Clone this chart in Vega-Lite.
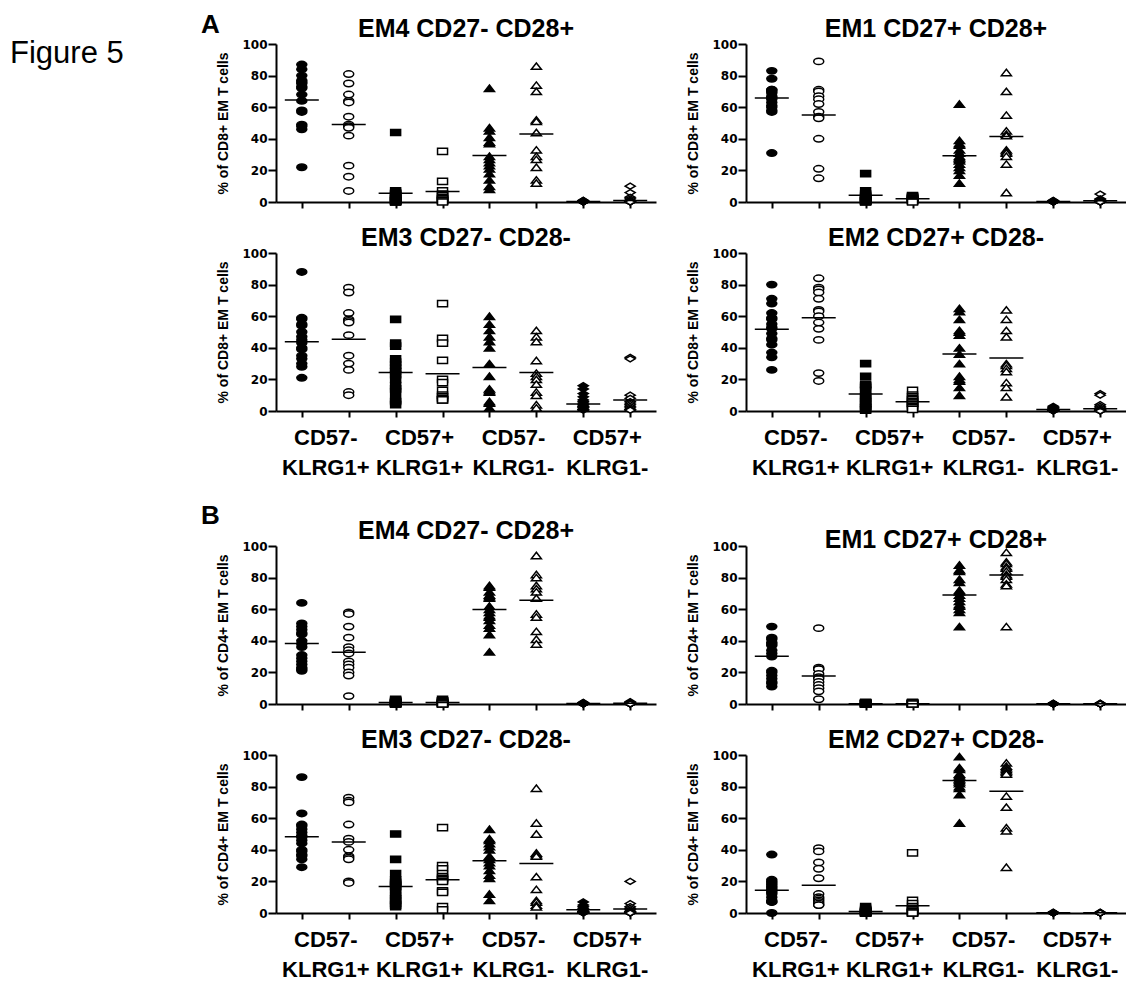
{
"$schema": "https://vega.github.io/schema/vega-lite/v6.json",
"background": "white",
"padding": {"left": 0, "top": 12, "right": 0, "bottom": 0},
"config": {
 "view": {"stroke": null},
 "axis": {"grid": false, "domainColor": "black", "tickColor": "black", "domainWidth": 2, "tickWidth": 2, "labelColor": "black", "titleColor": "black"},
 "axisX": {"tickSize": 6, "labelFont": "Liberation Sans", "labelFontWeight": "bold", "labelFontSize": 22, "labelPadding": 10, "labelLineHeight": 30, "labelAngle": 0, "labelOffset": 23.5},
 "axisY": {"tickSize": 8, "labelFont": "DejaVu Sans", "labelFontWeight": "bold", "labelFontSize": 12, "labelPadding": 1, "titleFont": "Liberation Sans", "titleFontSize": 14, "titleFontWeight": "bold", "titlePadding": 11},
 "title": {"font": "Liberation Sans", "fontSize": 25, "fontWeight": "bold", "color": "black", "anchor": "middle", "frame": "group", "offset": -4}
},
"datasets": {
 "A4": [
  {"g":"1a","v":87},{"g":"1a","v":84},{"g":"1a","v":80},{"g":"1a","v":77},{"g":"1a","v":76},{"g":"1a","v":75},{"g":"1a","v":73},{"g":"1a","v":72},{"g":"1a","v":68},{"g":"1a","v":64},{"g":"1a","v":58},{"g":"1a","v":57},{"g":"1a","v":49},{"g":"1a","v":48},{"g":"1a","v":46},{"g":"1a","v":22},
  {"g":"1b","v":81},{"g":"1b","v":75},{"g":"1b","v":68},{"g":"1b","v":64},{"g":"1b","v":63},{"g":"1b","v":54},{"g":"1b","v":49},{"g":"1b","v":48},{"g":"1b","v":47},{"g":"1b","v":42},{"g":"1b","v":23},{"g":"1b","v":16},{"g":"1b","v":7},
  {"g":"2a","v":44},{"g":"2a","v":7},{"g":"2a","v":6},{"g":"2a","v":5},{"g":"2a","v":5},{"g":"2a","v":4},{"g":"2a","v":3},{"g":"2a","v":2},{"g":"2a","v":2},{"g":"2a","v":1},{"g":"2a","v":1},{"g":"2a","v":1},{"g":"2a","v":0.5},{"g":"2a","v":0.5},{"g":"2a","v":0},{"g":"2a","v":0},
  {"g":"2b","v":32},{"g":"2b","v":13},{"g":"2b","v":7},{"g":"2b","v":5},{"g":"2b","v":4},{"g":"2b","v":3},{"g":"2b","v":2},{"g":"2b","v":2},{"g":"2b","v":1},{"g":"2b","v":1},{"g":"2b","v":0.5},{"g":"2b","v":0},
  {"g":"3a","v":72},{"g":"3a","v":47},{"g":"3a","v":45},{"g":"3a","v":41},{"g":"3a","v":38},{"g":"3a","v":37},{"g":"3a","v":29},{"g":"3a","v":27},{"g":"3a","v":25},{"g":"3a","v":23},{"g":"3a","v":21},{"g":"3a","v":18},{"g":"3a","v":14},{"g":"3a","v":10},{"g":"3a","v":8},
  {"g":"3b","v":86},{"g":"3b","v":74},{"g":"3b","v":70},{"g":"3b","v":52},{"g":"3b","v":51},{"g":"3b","v":44},{"g":"3b","v":33},{"g":"3b","v":29},{"g":"3b","v":27},{"g":"3b","v":22},{"g":"3b","v":14},{"g":"3b","v":12},
  {"g":"4a","v":1},{"g":"4a","v":1},{"g":"4a","v":0.5},{"g":"4a","v":0.5},{"g":"4a","v":0.5},{"g":"4a","v":0.3},{"g":"4a","v":0.3},{"g":"4a","v":0.2},{"g":"4a","v":0.2},{"g":"4a","v":0.1},{"g":"4a","v":0},{"g":"4a","v":0},{"g":"4a","v":0},{"g":"4a","v":0},
  {"g":"4b","v":10},{"g":"4b","v":6},{"g":"4b","v":3},{"g":"4b","v":2},{"g":"4b","v":1},{"g":"4b","v":1},{"g":"4b","v":0.5},{"g":"4b","v":0.5},{"g":"4b","v":0},{"g":"4b","v":0},{"g":"4b","v":0},{"g":"4b","v":0}
 ],
 "A4m": [{"g":"1a","v":64.5},{"g":"1b","v":49},{"g":"2a","v":5.5},{"g":"2b","v":6.6},{"g":"3a","v":29.5},{"g":"3b","v":43},{"g":"4a","v":0.3},{"g":"4b","v":1}],
 "A1": [
  {"g":"1a","v":83},{"g":"1a","v":78},{"g":"1a","v":71},{"g":"1a","v":71},{"g":"1a","v":70},{"g":"1a","v":69},{"g":"1a","v":67},{"g":"1a","v":66},{"g":"1a","v":65},{"g":"1a","v":63},{"g":"1a","v":61},{"g":"1a","v":60},{"g":"1a","v":58},{"g":"1a","v":57},{"g":"1a","v":31},
  {"g":"1b","v":89},{"g":"1b","v":71},{"g":"1b","v":70},{"g":"1b","v":67},{"g":"1b","v":65},{"g":"1b","v":62},{"g":"1b","v":57},{"g":"1b","v":54},{"g":"1b","v":53},{"g":"1b","v":40},{"g":"1b","v":21},{"g":"1b","v":15},
  {"g":"2a","v":18},{"g":"2a","v":7},{"g":"2a","v":5},{"g":"2a","v":4},{"g":"2a","v":3},{"g":"2a","v":3},{"g":"2a","v":2},{"g":"2a","v":2},{"g":"2a","v":1},{"g":"2a","v":1},{"g":"2a","v":1},{"g":"2a","v":0.5},{"g":"2a","v":0.5},{"g":"2a","v":0.3},{"g":"2a","v":0},
  {"g":"2b","v":4},{"g":"2b","v":3.5},{"g":"2b","v":3},{"g":"2b","v":3},{"g":"2b","v":2.5},{"g":"2b","v":2},{"g":"2b","v":2},{"g":"2b","v":1.5},{"g":"2b","v":1},{"g":"2b","v":1},{"g":"2b","v":0.5},{"g":"2b","v":0},
  {"g":"3a","v":62},{"g":"3a","v":39},{"g":"3a","v":37},{"g":"3a","v":36},{"g":"3a","v":33},{"g":"3a","v":31},{"g":"3a","v":29},{"g":"3a","v":28},{"g":"3a","v":27},{"g":"3a","v":26},{"g":"3a","v":24},{"g":"3a","v":22},{"g":"3a","v":20},{"g":"3a","v":17},{"g":"3a","v":12},
  {"g":"3b","v":82},{"g":"3b","v":70},{"g":"3b","v":55},{"g":"3b","v":45},{"g":"3b","v":43},{"g":"3b","v":42},{"g":"3b","v":33},{"g":"3b","v":32},{"g":"3b","v":31},{"g":"3b","v":29},{"g":"3b","v":24},{"g":"3b","v":6},
  {"g":"4a","v":1},{"g":"4a","v":0.8},{"g":"4a","v":0.5},{"g":"4a","v":0.5},{"g":"4a","v":0.3},{"g":"4a","v":0.3},{"g":"4a","v":0.2},{"g":"4a","v":0.2},{"g":"4a","v":0},{"g":"4a","v":0},{"g":"4a","v":0},{"g":"4a","v":0},{"g":"4a","v":0},
  {"g":"4b","v":5},{"g":"4b","v":2},{"g":"4b","v":1.5},{"g":"4b","v":1},{"g":"4b","v":1},{"g":"4b","v":0.5},{"g":"4b","v":0.5},{"g":"4b","v":0},{"g":"4b","v":0},{"g":"4b","v":0},{"g":"4b","v":0},{"g":"4b","v":0}
 ],
 "A1m": [{"g":"1a","v":65.8},{"g":"1b","v":55},{"g":"2a","v":4.3},{"g":"2b","v":2},{"g":"3a","v":29.3},{"g":"3b","v":41.5},{"g":"4a","v":0.3},{"g":"4b","v":0.8}],
 "A3": [
  {"g":"1a","v":88},{"g":"1a","v":59},{"g":"1a","v":58},{"g":"1a","v":55},{"g":"1a","v":54},{"g":"1a","v":50},{"g":"1a","v":47},{"g":"1a","v":45},{"g":"1a","v":43},{"g":"1a","v":40},{"g":"1a","v":39},{"g":"1a","v":35},{"g":"1a","v":33},{"g":"1a","v":30},{"g":"1a","v":28},{"g":"1a","v":21},
  {"g":"1b","v":78},{"g":"1b","v":75},{"g":"1b","v":62},{"g":"1b","v":58},{"g":"1b","v":57},{"g":"1b","v":56},{"g":"1b","v":48},{"g":"1b","v":35},{"g":"1b","v":30},{"g":"1b","v":26},{"g":"1b","v":12},{"g":"1b","v":10},
  {"g":"2a","v":58},{"g":"2a","v":43},{"g":"2a","v":41},{"g":"2a","v":33},{"g":"2a","v":31},{"g":"2a","v":29},{"g":"2a","v":27},{"g":"2a","v":25},{"g":"2a","v":23},{"g":"2a","v":20},{"g":"2a","v":16},{"g":"2a","v":14},{"g":"2a","v":12},{"g":"2a","v":7},{"g":"2a","v":6},{"g":"2a","v":4},
  {"g":"2b","v":68},{"g":"2b","v":46},{"g":"2b","v":43},{"g":"2b","v":32},{"g":"2b","v":20},{"g":"2b","v":18},{"g":"2b","v":13},{"g":"2b","v":10},{"g":"2b","v":9},{"g":"2b","v":8},{"g":"2b","v":7},{"g":"2b","v":7},
  {"g":"3a","v":60},{"g":"3a","v":55},{"g":"3a","v":51},{"g":"3a","v":47},{"g":"3a","v":44},{"g":"3a","v":40},{"g":"3a","v":30},{"g":"3a","v":22},{"g":"3a","v":14},{"g":"3a","v":13},{"g":"3a","v":12},{"g":"3a","v":6},{"g":"3a","v":5},{"g":"3a","v":2},
  {"g":"3b","v":51},{"g":"3b","v":47},{"g":"3b","v":44},{"g":"3b","v":32},{"g":"3b","v":24},{"g":"3b","v":22},{"g":"3b","v":20},{"g":"3b","v":17},{"g":"3b","v":12},{"g":"3b","v":10},{"g":"3b","v":4},{"g":"3b","v":2},
  {"g":"4a","v":16},{"g":"4a","v":14},{"g":"4a","v":11},{"g":"4a","v":9},{"g":"4a","v":7},{"g":"4a","v":6},{"g":"4a","v":5},{"g":"4a","v":4},{"g":"4a","v":3},{"g":"4a","v":3},{"g":"4a","v":2},{"g":"4a","v":2},{"g":"4a","v":1},{"g":"4a","v":1},{"g":"4a","v":0.5},
  {"g":"4b","v":34},{"g":"4b","v":33},{"g":"4b","v":10},{"g":"4b","v":8},{"g":"4b","v":6},{"g":"4b","v":5},{"g":"4b","v":4},{"g":"4b","v":3},{"g":"4b","v":2},{"g":"4b","v":1},{"g":"4b","v":1},{"g":"4b","v":0.5}
 ],
 "A3m": [{"g":"1a","v":43.9},{"g":"1b","v":45.4},{"g":"2a","v":24.3},{"g":"2b","v":23.6},{"g":"3a","v":27.5},{"g":"3b","v":24.3},{"g":"4a","v":4.5},{"g":"4b","v":7}],
 "A2": [
  {"g":"1a","v":80},{"g":"1a","v":71},{"g":"1a","v":68},{"g":"1a","v":62},{"g":"1a","v":59},{"g":"1a","v":58},{"g":"1a","v":55},{"g":"1a","v":53},{"g":"1a","v":52},{"g":"1a","v":49},{"g":"1a","v":46},{"g":"1a","v":45},{"g":"1a","v":42},{"g":"1a","v":37},{"g":"1a","v":34},{"g":"1a","v":26},
  {"g":"1b","v":84},{"g":"1b","v":78},{"g":"1b","v":77},{"g":"1b","v":75},{"g":"1b","v":71},{"g":"1b","v":64},{"g":"1b","v":63},{"g":"1b","v":60},{"g":"1b","v":56},{"g":"1b","v":52},{"g":"1b","v":45},{"g":"1b","v":24},{"g":"1b","v":19},
  {"g":"2a","v":30},{"g":"2a","v":22},{"g":"2a","v":17},{"g":"2a","v":16},{"g":"2a","v":15},{"g":"2a","v":13},{"g":"2a","v":10},{"g":"2a","v":9},{"g":"2a","v":8},{"g":"2a","v":6},{"g":"2a","v":5},{"g":"2a","v":4},{"g":"2a","v":3},{"g":"2a","v":2},{"g":"2a","v":1},{"g":"2a","v":0.5},
  {"g":"2b","v":13},{"g":"2b","v":10},{"g":"2b","v":9},{"g":"2b","v":8},{"g":"2b","v":7},{"g":"2b","v":6},{"g":"2b","v":5},{"g":"2b","v":5},{"g":"2b","v":4},{"g":"2b","v":3},{"g":"2b","v":2},{"g":"2b","v":1},
  {"g":"3a","v":65},{"g":"3a","v":63},{"g":"3a","v":58},{"g":"3a","v":51},{"g":"3a","v":50},{"g":"3a","v":48},{"g":"3a","v":40},{"g":"3a","v":36},{"g":"3a","v":30},{"g":"3a","v":22},{"g":"3a","v":20},{"g":"3a","v":19},{"g":"3a","v":15},{"g":"3a","v":10},
  {"g":"3b","v":64},{"g":"3b","v":58},{"g":"3b","v":51},{"g":"3b","v":47},{"g":"3b","v":30},{"g":"3b","v":29},{"g":"3b","v":27},{"g":"3b","v":25},{"g":"3b","v":18},{"g":"3b","v":15},{"g":"3b","v":9},
  {"g":"4a","v":3},{"g":"4a","v":2},{"g":"4a","v":2},{"g":"4a","v":1.5},{"g":"4a","v":1},{"g":"4a","v":1},{"g":"4a","v":1},{"g":"4a","v":0.5},{"g":"4a","v":0.5},{"g":"4a","v":0.5},{"g":"4a","v":0.3},{"g":"4a","v":0.2},{"g":"4a","v":0},{"g":"4a","v":0},
  {"g":"4b","v":11},{"g":"4b","v":10},{"g":"4b","v":4},{"g":"4b","v":3},{"g":"4b","v":2},{"g":"4b","v":1},{"g":"4b","v":1},{"g":"4b","v":0.5},{"g":"4b","v":0.5},{"g":"4b","v":0},{"g":"4b","v":0},{"g":"4b","v":0}
 ],
 "A2m": [{"g":"1a","v":51.8},{"g":"1b","v":59},{"g":"2a","v":10.8},{"g":"2b","v":5.8},{"g":"3a","v":36.1},{"g":"3b","v":33.5},{"g":"4a","v":1},{"g":"4b","v":1.5}],
 "B4": [
  {"g":"1a","v":64},{"g":"1a","v":51},{"g":"1a","v":49},{"g":"1a","v":47},{"g":"1a","v":45},{"g":"1a","v":44},{"g":"1a","v":40},{"g":"1a","v":38},{"g":"1a","v":36},{"g":"1a","v":31},{"g":"1a","v":29},{"g":"1a","v":27},{"g":"1a","v":25},{"g":"1a","v":23},{"g":"1a","v":22},{"g":"1a","v":21},
  {"g":"1b","v":58},{"g":"1b","v":57},{"g":"1b","v":49},{"g":"1b","v":42},{"g":"1b","v":36},{"g":"1b","v":34},{"g":"1b","v":32},{"g":"1b","v":27},{"g":"1b","v":25},{"g":"1b","v":23},{"g":"1b","v":20},{"g":"1b","v":18},{"g":"1b","v":5},
  {"g":"2a","v":3},{"g":"2a","v":2.5},{"g":"2a","v":2},{"g":"2a","v":1.5},{"g":"2a","v":1},{"g":"2a","v":1},{"g":"2a","v":1},{"g":"2a","v":0.5},{"g":"2a","v":0.5},{"g":"2a","v":0.5},{"g":"2a","v":0.3},{"g":"2a","v":0.2},{"g":"2a","v":0},{"g":"2a","v":0},
  {"g":"2b","v":3},{"g":"2b","v":2},{"g":"2b","v":2},{"g":"2b","v":1.5},{"g":"2b","v":1},{"g":"2b","v":1},{"g":"2b","v":0.5},{"g":"2b","v":0.5},{"g":"2b","v":0.3},{"g":"2b","v":0},{"g":"2b","v":0},{"g":"2b","v":0},
  {"g":"3a","v":75},{"g":"3a","v":74},{"g":"3a","v":71},{"g":"3a","v":69},{"g":"3a","v":68},{"g":"3a","v":67},{"g":"3a","v":62},{"g":"3a","v":60},{"g":"3a","v":58},{"g":"3a","v":56},{"g":"3a","v":55},{"g":"3a","v":53},{"g":"3a","v":50},{"g":"3a","v":48},{"g":"3a","v":44},{"g":"3a","v":33},
  {"g":"3b","v":94},{"g":"3b","v":82},{"g":"3b","v":80},{"g":"3b","v":75},{"g":"3b","v":73},{"g":"3b","v":71},{"g":"3b","v":67},{"g":"3b","v":57},{"g":"3b","v":55},{"g":"3b","v":46},{"g":"3b","v":41},{"g":"3b","v":38},
  {"g":"4a","v":1},{"g":"4a","v":0.8},{"g":"4a","v":0.5},{"g":"4a","v":0.5},{"g":"4a","v":0.3},{"g":"4a","v":0.3},{"g":"4a","v":0.2},{"g":"4a","v":0.1},{"g":"4a","v":0},{"g":"4a","v":0},{"g":"4a","v":0},{"g":"4a","v":0},{"g":"4a","v":0},
  {"g":"4b","v":1.5},{"g":"4b","v":1},{"g":"4b","v":0.8},{"g":"4b","v":0.5},{"g":"4b","v":0.5},{"g":"4b","v":0.3},{"g":"4b","v":0.2},{"g":"4b","v":0},{"g":"4b","v":0},{"g":"4b","v":0},{"g":"4b","v":0},{"g":"4b","v":0}
 ],
 "B4m": [{"g":"1a","v":38.3},{"g":"1b","v":32.7},{"g":"2a","v":1},{"g":"2b","v":1},{"g":"3a","v":59.8},{"g":"3b","v":65.6},{"g":"4a","v":0.3},{"g":"4b","v":0.4}],
 "B1": [
  {"g":"1a","v":49},{"g":"1a","v":42},{"g":"1a","v":41},{"g":"1a","v":39},{"g":"1a","v":38},{"g":"1a","v":37},{"g":"1a","v":34},{"g":"1a","v":32},{"g":"1a","v":30},{"g":"1a","v":21},{"g":"1a","v":20},{"g":"1a","v":18},{"g":"1a","v":16},{"g":"1a","v":14},{"g":"1a","v":13},{"g":"1a","v":11},
  {"g":"1b","v":48},{"g":"1b","v":23},{"g":"1b","v":22},{"g":"1b","v":22},{"g":"1b","v":19},{"g":"1b","v":17},{"g":"1b","v":16},{"g":"1b","v":14},{"g":"1b","v":12},{"g":"1b","v":10},{"g":"1b","v":8},{"g":"1b","v":3},
  {"g":"2a","v":1},{"g":"2a","v":0.8},{"g":"2a","v":0.5},{"g":"2a","v":0.5},{"g":"2a","v":0.3},{"g":"2a","v":0.3},{"g":"2a","v":0.2},{"g":"2a","v":0.2},{"g":"2a","v":0.1},{"g":"2a","v":0},{"g":"2a","v":0},{"g":"2a","v":0},{"g":"2a","v":0},
  {"g":"2b","v":1},{"g":"2b","v":0.8},{"g":"2b","v":0.5},{"g":"2b","v":0.5},{"g":"2b","v":0.3},{"g":"2b","v":0.2},{"g":"2b","v":0.1},{"g":"2b","v":0},{"g":"2b","v":0},{"g":"2b","v":0},{"g":"2b","v":0},{"g":"2b","v":0},
  {"g":"3a","v":88},{"g":"3a","v":85},{"g":"3a","v":84},{"g":"3a","v":79},{"g":"3a","v":77},{"g":"3a","v":72},{"g":"3a","v":71},{"g":"3a","v":69},{"g":"3a","v":67},{"g":"3a","v":65},{"g":"3a","v":63},{"g":"3a","v":62},{"g":"3a","v":60},{"g":"3a","v":58},{"g":"3a","v":49},
  {"g":"3b","v":96},{"g":"3b","v":90},{"g":"3b","v":89},{"g":"3b","v":87},{"g":"3b","v":86},{"g":"3b","v":84},{"g":"3b","v":82},{"g":"3b","v":81},{"g":"3b","v":79},{"g":"3b","v":76},{"g":"3b","v":75},{"g":"3b","v":49},
  {"g":"4a","v":0.5},{"g":"4a","v":0.3},{"g":"4a","v":0.3},{"g":"4a","v":0.2},{"g":"4a","v":0.1},{"g":"4a","v":0},{"g":"4a","v":0},{"g":"4a","v":0},{"g":"4a","v":0},{"g":"4a","v":0},{"g":"4a","v":0},{"g":"4a","v":0},
  {"g":"4b","v":0.5},{"g":"4b","v":0.3},{"g":"4b","v":0.2},{"g":"4b","v":0.1},{"g":"4b","v":0},{"g":"4b","v":0},{"g":"4b","v":0},{"g":"4b","v":0},{"g":"4b","v":0},{"g":"4b","v":0},{"g":"4b","v":0},{"g":"4b","v":0}
 ],
 "B1m": [{"g":"1a","v":30.3},{"g":"1b","v":17.8},{"g":"2a","v":0.2},{"g":"2b","v":0.2},{"g":"3a","v":69},{"g":"3b","v":81.6},{"g":"4a","v":0.1},{"g":"4b","v":0.1}],
 "B1s": [{"a":"1a","b":"1b","t":"**"},{"a":"3a","b":"3b","t":"**"}],
 "B3": [
  {"g":"1a","v":86},{"g":"1a","v":63},{"g":"1a","v":56},{"g":"1a","v":55},{"g":"1a","v":53},{"g":"1a","v":51},{"g":"1a","v":49},{"g":"1a","v":48},{"g":"1a","v":46},{"g":"1a","v":44},{"g":"1a","v":40},{"g":"1a","v":39},{"g":"1a","v":37},{"g":"1a","v":36},{"g":"1a","v":34},{"g":"1a","v":29},
  {"g":"1b","v":73},{"g":"1b","v":71},{"g":"1b","v":70},{"g":"1b","v":56},{"g":"1b","v":47},{"g":"1b","v":45},{"g":"1b","v":40},{"g":"1b","v":36},{"g":"1b","v":35},{"g":"1b","v":34},{"g":"1b","v":20},{"g":"1b","v":19},
  {"g":"2a","v":50},{"g":"2a","v":34},{"g":"2a","v":25},{"g":"2a","v":21},{"g":"2a","v":20},{"g":"2a","v":19},{"g":"2a","v":18},{"g":"2a","v":17},{"g":"2a","v":16},{"g":"2a","v":13},{"g":"2a","v":11},{"g":"2a","v":9},{"g":"2a","v":8},{"g":"2a","v":6},{"g":"2a","v":5},{"g":"2a","v":4},
  {"g":"2b","v":54},{"g":"2b","v":30},{"g":"2b","v":28},{"g":"2b","v":25},{"g":"2b","v":23},{"g":"2b","v":22},{"g":"2b","v":21},{"g":"2b","v":20},{"g":"2b","v":14},{"g":"2b","v":13},{"g":"2b","v":4},{"g":"2b","v":2},
  {"g":"3a","v":53},{"g":"3a","v":47},{"g":"3a","v":46},{"g":"3a","v":44},{"g":"3a","v":42},{"g":"3a","v":40},{"g":"3a","v":36},{"g":"3a","v":34},{"g":"3a","v":32},{"g":"3a","v":30},{"g":"3a","v":27},{"g":"3a","v":24},{"g":"3a","v":22},{"g":"3a","v":12},{"g":"3a","v":8},
  {"g":"3b","v":79},{"g":"3b","v":57},{"g":"3b","v":50},{"g":"3b","v":38},{"g":"3b","v":37},{"g":"3b","v":36},{"g":"3b","v":23},{"g":"3b","v":15},{"g":"3b","v":8},{"g":"3b","v":7},{"g":"3b","v":5},{"g":"3b","v":4},
  {"g":"4a","v":7},{"g":"4a","v":5},{"g":"4a","v":4},{"g":"4a","v":3},{"g":"4a","v":2},{"g":"4a","v":2},{"g":"4a","v":1},{"g":"4a","v":1},{"g":"4a","v":1},{"g":"4a","v":0.5},{"g":"4a","v":0.5},{"g":"4a","v":0.3},{"g":"4a","v":0},{"g":"4a","v":0},
  {"g":"4b","v":20},{"g":"4b","v":6},{"g":"4b","v":4},{"g":"4b","v":3},{"g":"4b","v":2},{"g":"4b","v":1},{"g":"4b","v":1},{"g":"4b","v":0.5},{"g":"4b","v":0},{"g":"4b","v":0},{"g":"4b","v":0},{"g":"4b","v":0}
 ],
 "B3m": [{"g":"1a","v":48.2},{"g":"1b","v":45},{"g":"2a","v":16.8},{"g":"2b","v":21},{"g":"3a","v":33},{"g":"3b","v":31.4},{"g":"4a","v":2},{"g":"4b","v":2.5}],
 "B2": [
  {"g":"1a","v":37},{"g":"1a","v":21},{"g":"1a","v":20},{"g":"1a","v":19},{"g":"1a","v":18},{"g":"1a","v":17},{"g":"1a","v":16},{"g":"1a","v":15},{"g":"1a","v":14},{"g":"1a","v":13},{"g":"1a","v":12},{"g":"1a","v":10},{"g":"1a","v":8},{"g":"1a","v":7},{"g":"1a","v":7},{"g":"1a","v":0},
  {"g":"1b","v":41},{"g":"1b","v":39},{"g":"1b","v":32},{"g":"1b","v":28},{"g":"1b","v":22},{"g":"1b","v":12},{"g":"1b","v":10},{"g":"1b","v":9},{"g":"1b","v":8},{"g":"1b","v":7},{"g":"1b","v":6},{"g":"1b","v":5},{"g":"1b","v":5},
  {"g":"2a","v":4},{"g":"2a","v":3},{"g":"2a","v":2},{"g":"2a","v":1.5},{"g":"2a","v":1},{"g":"2a","v":1},{"g":"2a","v":1},{"g":"2a","v":0.5},{"g":"2a","v":0.5},{"g":"2a","v":0.3},{"g":"2a","v":0.2},{"g":"2a","v":0},{"g":"2a","v":0},{"g":"2a","v":0},
  {"g":"2b","v":38},{"g":"2b","v":8},{"g":"2b","v":6},{"g":"2b","v":4},{"g":"2b","v":3},{"g":"2b","v":2},{"g":"2b","v":1},{"g":"2b","v":1},{"g":"2b","v":0.5},{"g":"2b","v":0},{"g":"2b","v":0},{"g":"2b","v":0},
  {"g":"3a","v":99},{"g":"3a","v":92},{"g":"3a","v":91},{"g":"3a","v":88},{"g":"3a","v":87},{"g":"3a","v":86},{"g":"3a","v":85},{"g":"3a","v":84},{"g":"3a","v":83},{"g":"3a","v":82},{"g":"3a","v":80},{"g":"3a","v":79},{"g":"3a","v":75},{"g":"3a","v":57},
  {"g":"3b","v":95},{"g":"3b","v":93},{"g":"3b","v":92},{"g":"3b","v":91},{"g":"3b","v":90},{"g":"3b","v":89},{"g":"3b","v":88},{"g":"3b","v":74},{"g":"3b","v":67},{"g":"3b","v":54},{"g":"3b","v":52},{"g":"3b","v":29},
  {"g":"4a","v":0.5},{"g":"4a","v":0.3},{"g":"4a","v":0.2},{"g":"4a","v":0.1},{"g":"4a","v":0},{"g":"4a","v":0},{"g":"4a","v":0},{"g":"4a","v":0},{"g":"4a","v":0},{"g":"4a","v":0},{"g":"4a","v":0},{"g":"4a","v":0},
  {"g":"4b","v":0.5},{"g":"4b","v":0.3},{"g":"4b","v":0.2},{"g":"4b","v":0},{"g":"4b","v":0},{"g":"4b","v":0},{"g":"4b","v":0},{"g":"4b","v":0},{"g":"4b","v":0},{"g":"4b","v":0},{"g":"4b","v":0},{"g":"4b","v":0}
 ],
 "B2m": [{"g":"1a","v":14.4},{"g":"1b","v":17.5},{"g":"2a","v":1},{"g":"2b","v":4.6},{"g":"3a","v":83.9},{"g":"3b","v":77},{"g":"4a","v":0.1},{"g":"4b","v":0.1}]
},
"hconcat": [
 {
  "width": 20, "height": 20,
  "data": {"values": [{"t": "Figure 5"}]},
  "mark": {"type": "text", "align": "left", "baseline": "middle", "font": "Liberation Sans", "fontSize": 31, "color": "black"},
  "encoding": {"text": {"field": "t"}}
 },
 {
  "spacing": 25,
  "vconcat": [
   {
    "title": {"text": "A", "anchor": "start", "frame": "bounds", "fontSize": 26, "offset": -21, "dx": -16},
    "spacing": 17,
    "vconcat": [
     {"spacing": 30, "hconcat": [
      {"width": 380, "height": 158, "title": {"text": "EM4 CD27- CD28+"},
       "encoding": {
        "x": {"field": "g", "type": "nominal", "title": null, "scale": {"type": "point", "domain": ["1a","1b","2a","2b","3a","3b","4a","4b"], "padding": 0.55}, "axis": {"labels": false}},
        "y": {"field": "v", "type": "quantitative", "title": "% of CD8+ EM T cells", "scale": {"domain": [0, 100], "nice": false}, "axis": {"values": [0,20,40,60,80,100]}}
       },
       "layer": [
        {"data": {"name": "A4"}, "mark": {"type": "point", "filled": true, "opacity": 1, "stroke": "black", "strokeWidth": 1.5, "size": 100},
         "encoding": {
          "shape": {"field": "g", "type": "nominal", "legend": null, "scale": {"domain": ["1a","1b","2a","2b","3a","3b","4a","4b"], "range": ["M-1,0A1,0.64,0,1,1,1,0A1,0.64,0,1,1,-1,0Z","M-1,0A1,0.64,0,1,1,1,0A1,0.64,0,1,1,-1,0Z","M-1,-0.62H1V0.62H-1Z","M-1,-0.62H1V0.62H-1Z","M0,-0.64L1,0.64H-1Z","M0,-0.64L1,0.64H-1Z","M-1,0L0,-0.6L1,0L0,0.6Z","M-1,0L0,-0.6L1,0L0,0.6Z"]}},
          "fill": {"field": "g", "type": "nominal", "legend": null, "scale": {"domain": ["1a","1b","2a","2b","3a","3b","4a","4b"], "range": ["black","white","black","white","black","white","black","white"]}}
         }},
        {"data": {"name": "A4m"}, "mark": {"type": "tick", "color": "black", "opacity": 1, "thickness": 1.5, "size": 34}}
       ]},
      {"width": 380, "height": 158, "title": {"text": "EM1 CD27+ CD28+"},
       "encoding": {
        "x": {"field": "g", "type": "nominal", "title": null, "scale": {"type": "point", "domain": ["1a","1b","2a","2b","3a","3b","4a","4b"], "padding": 0.55}, "axis": {"labels": false}},
        "y": {"field": "v", "type": "quantitative", "title": "% of CD8+ EM T cells", "scale": {"domain": [0, 100], "nice": false}, "axis": {"values": [0,20,40,60,80,100]}}
       },
       "layer": [
        {"data": {"name": "A1"}, "mark": {"type": "point", "filled": true, "opacity": 1, "stroke": "black", "strokeWidth": 1.5, "size": 100},
         "encoding": {
          "shape": {"field": "g", "type": "nominal", "legend": null, "scale": {"domain": ["1a","1b","2a","2b","3a","3b","4a","4b"], "range": ["M-1,0A1,0.64,0,1,1,1,0A1,0.64,0,1,1,-1,0Z","M-1,0A1,0.64,0,1,1,1,0A1,0.64,0,1,1,-1,0Z","M-1,-0.62H1V0.62H-1Z","M-1,-0.62H1V0.62H-1Z","M0,-0.64L1,0.64H-1Z","M0,-0.64L1,0.64H-1Z","M-1,0L0,-0.6L1,0L0,0.6Z","M-1,0L0,-0.6L1,0L0,0.6Z"]}},
          "fill": {"field": "g", "type": "nominal", "legend": null, "scale": {"domain": ["1a","1b","2a","2b","3a","3b","4a","4b"], "range": ["black","white","black","white","black","white","black","white"]}}
         }},
        {"data": {"name": "A1m"}, "mark": {"type": "tick", "color": "black", "opacity": 1, "thickness": 1.5, "size": 34}}
       ]}
     ]},
     {"spacing": 30, "hconcat": [
      {"width": 380, "height": 158, "title": {"text": "EM3 CD27- CD28-"},
       "encoding": {
        "x": {"field": "g", "type": "nominal", "title": null, "scale": {"type": "point", "domain": ["1a","1b","2a","2b","3a","3b","4a","4b"], "padding": 0.55}, "axis": {"labelExpr": "datum.value=='1a'?['CD57-','KLRG1+']:datum.value=='2a'?['CD57+','KLRG1+']:datum.value=='3a'?['CD57-','KLRG1-']:datum.value=='4a'?['CD57+','KLRG1-']:''"}},
        "y": {"field": "v", "type": "quantitative", "title": "% of CD8+ EM T cells", "scale": {"domain": [0, 100], "nice": false}, "axis": {"values": [0,20,40,60,80,100]}}
       },
       "layer": [
        {"data": {"name": "A3"}, "mark": {"type": "point", "filled": true, "opacity": 1, "stroke": "black", "strokeWidth": 1.5, "size": 100},
         "encoding": {
          "shape": {"field": "g", "type": "nominal", "legend": null, "scale": {"domain": ["1a","1b","2a","2b","3a","3b","4a","4b"], "range": ["M-1,0A1,0.64,0,1,1,1,0A1,0.64,0,1,1,-1,0Z","M-1,0A1,0.64,0,1,1,1,0A1,0.64,0,1,1,-1,0Z","M-1,-0.62H1V0.62H-1Z","M-1,-0.62H1V0.62H-1Z","M0,-0.64L1,0.64H-1Z","M0,-0.64L1,0.64H-1Z","M-1,0L0,-0.6L1,0L0,0.6Z","M-1,0L0,-0.6L1,0L0,0.6Z"]}},
          "fill": {"field": "g", "type": "nominal", "legend": null, "scale": {"domain": ["1a","1b","2a","2b","3a","3b","4a","4b"], "range": ["black","white","black","white","black","white","black","white"]}}
         }},
        {"data": {"name": "A3m"}, "mark": {"type": "tick", "color": "black", "opacity": 1, "thickness": 1.5, "size": 34}}
       ]},
      {"width": 380, "height": 158, "title": {"text": "EM2 CD27+ CD28-"},
       "encoding": {
        "x": {"field": "g", "type": "nominal", "title": null, "scale": {"type": "point", "domain": ["1a","1b","2a","2b","3a","3b","4a","4b"], "padding": 0.55}, "axis": {"labelExpr": "datum.value=='1a'?['CD57-','KLRG1+']:datum.value=='2a'?['CD57+','KLRG1+']:datum.value=='3a'?['CD57-','KLRG1-']:datum.value=='4a'?['CD57+','KLRG1-']:''"}},
        "y": {"field": "v", "type": "quantitative", "title": "% of CD8+ EM T cells", "scale": {"domain": [0, 100], "nice": false}, "axis": {"values": [0,20,40,60,80,100]}}
       },
       "layer": [
        {"data": {"name": "A2"}, "mark": {"type": "point", "filled": true, "opacity": 1, "stroke": "black", "strokeWidth": 1.5, "size": 100},
         "encoding": {
          "shape": {"field": "g", "type": "nominal", "legend": null, "scale": {"domain": ["1a","1b","2a","2b","3a","3b","4a","4b"], "range": ["M-1,0A1,0.64,0,1,1,1,0A1,0.64,0,1,1,-1,0Z","M-1,0A1,0.64,0,1,1,1,0A1,0.64,0,1,1,-1,0Z","M-1,-0.62H1V0.62H-1Z","M-1,-0.62H1V0.62H-1Z","M0,-0.64L1,0.64H-1Z","M0,-0.64L1,0.64H-1Z","M-1,0L0,-0.6L1,0L0,0.6Z","M-1,0L0,-0.6L1,0L0,0.6Z"]}},
          "fill": {"field": "g", "type": "nominal", "legend": null, "scale": {"domain": ["1a","1b","2a","2b","3a","3b","4a","4b"], "range": ["black","white","black","white","black","white","black","white"]}}
         }},
        {"data": {"name": "A2m"}, "mark": {"type": "tick", "color": "black", "opacity": 1, "thickness": 1.5, "size": 34}}
       ]}
     ]}
    ]
   },
   {
    "title": {"text": "B", "anchor": "start", "frame": "bounds", "fontSize": 26, "offset": -10, "dx": -16},
    "spacing": 17,
    "vconcat": [
     {"spacing": 30, "hconcat": [
      {"width": 380, "height": 158, "title": {"text": "EM4 CD27- CD28+"},
       "encoding": {
        "x": {"field": "g", "type": "nominal", "title": null, "scale": {"type": "point", "domain": ["1a","1b","2a","2b","3a","3b","4a","4b"], "padding": 0.55}, "axis": {"labels": false}},
        "y": {"field": "v", "type": "quantitative", "title": "% of CD4+ EM T cells", "scale": {"domain": [0, 100], "nice": false}, "axis": {"values": [0,20,40,60,80,100]}}
       },
       "layer": [
        {"data": {"name": "B4"}, "mark": {"type": "point", "filled": true, "opacity": 1, "stroke": "black", "strokeWidth": 1.5, "size": 100},
         "encoding": {
          "shape": {"field": "g", "type": "nominal", "legend": null, "scale": {"domain": ["1a","1b","2a","2b","3a","3b","4a","4b"], "range": ["M-1,0A1,0.64,0,1,1,1,0A1,0.64,0,1,1,-1,0Z","M-1,0A1,0.64,0,1,1,1,0A1,0.64,0,1,1,-1,0Z","M-1,-0.62H1V0.62H-1Z","M-1,-0.62H1V0.62H-1Z","M0,-0.64L1,0.64H-1Z","M0,-0.64L1,0.64H-1Z","M-1,0L0,-0.6L1,0L0,0.6Z","M-1,0L0,-0.6L1,0L0,0.6Z"]}},
          "fill": {"field": "g", "type": "nominal", "legend": null, "scale": {"domain": ["1a","1b","2a","2b","3a","3b","4a","4b"], "range": ["black","white","black","white","black","white","black","white"]}}
         }},
        {"data": {"name": "B4m"}, "mark": {"type": "tick", "color": "black", "opacity": 1, "thickness": 1.5, "size": 34}}
       ]},
      {"width": 380, "height": 158, "title": {"text": "EM1 CD27+ CD28+", "offset": -12.5},
       "encoding": {
        "x": {"field": "g", "type": "nominal", "title": null, "scale": {"type": "point", "domain": ["1a","1b","2a","2b","3a","3b","4a","4b"], "padding": 0.55}, "axis": {"labels": false}},
        "y": {"field": "v", "type": "quantitative", "title": "% of CD4+ EM T cells", "scale": {"domain": [0, 100], "nice": false}, "axis": {"values": [0,20,40,60,80,100]}}
       },
       "layer": [
        {"data": {"name": "B1"}, "mark": {"type": "point", "filled": true, "opacity": 1, "stroke": "black", "strokeWidth": 1.5, "size": 100},
         "encoding": {
          "shape": {"field": "g", "type": "nominal", "legend": null, "scale": {"domain": ["1a","1b","2a","2b","3a","3b","4a","4b"], "range": ["M-1,0A1,0.64,0,1,1,1,0A1,0.64,0,1,1,-1,0Z","M-1,0A1,0.64,0,1,1,1,0A1,0.64,0,1,1,-1,0Z","M-1,-0.62H1V0.62H-1Z","M-1,-0.62H1V0.62H-1Z","M0,-0.64L1,0.64H-1Z","M0,-0.64L1,0.64H-1Z","M-1,0L0,-0.6L1,0L0,0.6Z","M-1,0L0,-0.6L1,0L0,0.6Z"]}},
          "fill": {"field": "g", "type": "nominal", "legend": null, "scale": {"domain": ["1a","1b","2a","2b","3a","3b","4a","4b"], "range": ["black","white","black","white","black","white","black","white"]}}
         }},
        {"data": {"name": "B1m"}, "mark": {"type": "tick", "color": "black", "opacity": 1, "thickness": 1.5, "size": 34}},
        {"data": {"name": "B1s"}, "mark": {"type": "rule", "color": "black", "strokeWidth": 1.5},
         "encoding": {"x": {"field": "a", "type": "nominal", "title": null}, "x2": {"field": "b"}, "y": {"datum": 100, "type": "quantitative", "title": "% of CD4+ EM T cells"}}},
        {"data": {"name": "B1s"}, "mark": {"type": "rule", "color": "black", "strokeWidth": 1.5},
         "encoding": {"x": {"field": "a", "type": "nominal", "title": null}, "y": {"datum": 100, "type": "quantitative", "title": "% of CD4+ EM T cells"}, "y2": {"datum": 98}}},
        {"data": {"name": "B1s"}, "mark": {"type": "rule", "color": "black", "strokeWidth": 1.5},
         "encoding": {"x": {"field": "b", "type": "nominal", "title": null}, "y": {"datum": 100, "type": "quantitative", "title": "% of CD4+ EM T cells"}, "y2": {"datum": 98}}},
        {"data": {"name": "B1s"}, "mark": {"type": "text", "dx": 23.5, "dy": -4.5, "baseline": "alphabetic", "font": "Liberation Sans", "fontSize": 14, "color": "black"},
         "encoding": {"x": {"field": "a", "type": "nominal", "title": null}, "y": {"datum": 100, "type": "quantitative", "title": "% of CD4+ EM T cells"}, "text": {"field": "t"}}}
       ]}
     ]},
     {"spacing": 30, "hconcat": [
      {"width": 380, "height": 158, "title": {"text": "EM3 CD27- CD28-"},
       "encoding": {
        "x": {"field": "g", "type": "nominal", "title": null, "scale": {"type": "point", "domain": ["1a","1b","2a","2b","3a","3b","4a","4b"], "padding": 0.55}, "axis": {"labelExpr": "datum.value=='1a'?['CD57-','KLRG1+']:datum.value=='2a'?['CD57+','KLRG1+']:datum.value=='3a'?['CD57-','KLRG1-']:datum.value=='4a'?['CD57+','KLRG1-']:''"}},
        "y": {"field": "v", "type": "quantitative", "title": "% of CD4+ EM T cells", "scale": {"domain": [0, 100], "nice": false}, "axis": {"values": [0,20,40,60,80,100]}}
       },
       "layer": [
        {"data": {"name": "B3"}, "mark": {"type": "point", "filled": true, "opacity": 1, "stroke": "black", "strokeWidth": 1.5, "size": 100},
         "encoding": {
          "shape": {"field": "g", "type": "nominal", "legend": null, "scale": {"domain": ["1a","1b","2a","2b","3a","3b","4a","4b"], "range": ["M-1,0A1,0.64,0,1,1,1,0A1,0.64,0,1,1,-1,0Z","M-1,0A1,0.64,0,1,1,1,0A1,0.64,0,1,1,-1,0Z","M-1,-0.62H1V0.62H-1Z","M-1,-0.62H1V0.62H-1Z","M0,-0.64L1,0.64H-1Z","M0,-0.64L1,0.64H-1Z","M-1,0L0,-0.6L1,0L0,0.6Z","M-1,0L0,-0.6L1,0L0,0.6Z"]}},
          "fill": {"field": "g", "type": "nominal", "legend": null, "scale": {"domain": ["1a","1b","2a","2b","3a","3b","4a","4b"], "range": ["black","white","black","white","black","white","black","white"]}}
         }},
        {"data": {"name": "B3m"}, "mark": {"type": "tick", "color": "black", "opacity": 1, "thickness": 1.5, "size": 34}}
       ]},
      {"width": 380, "height": 158, "title": {"text": "EM2 CD27+ CD28-"},
       "encoding": {
        "x": {"field": "g", "type": "nominal", "title": null, "scale": {"type": "point", "domain": ["1a","1b","2a","2b","3a","3b","4a","4b"], "padding": 0.55}, "axis": {"labelExpr": "datum.value=='1a'?['CD57-','KLRG1+']:datum.value=='2a'?['CD57+','KLRG1+']:datum.value=='3a'?['CD57-','KLRG1-']:datum.value=='4a'?['CD57+','KLRG1-']:''"}},
        "y": {"field": "v", "type": "quantitative", "title": "% of CD4+ EM T cells", "scale": {"domain": [0, 100], "nice": false}, "axis": {"values": [0,20,40,60,80,100]}}
       },
       "layer": [
        {"data": {"name": "B2"}, "mark": {"type": "point", "filled": true, "opacity": 1, "stroke": "black", "strokeWidth": 1.5, "size": 100},
         "encoding": {
          "shape": {"field": "g", "type": "nominal", "legend": null, "scale": {"domain": ["1a","1b","2a","2b","3a","3b","4a","4b"], "range": ["M-1,0A1,0.64,0,1,1,1,0A1,0.64,0,1,1,-1,0Z","M-1,0A1,0.64,0,1,1,1,0A1,0.64,0,1,1,-1,0Z","M-1,-0.62H1V0.62H-1Z","M-1,-0.62H1V0.62H-1Z","M0,-0.64L1,0.64H-1Z","M0,-0.64L1,0.64H-1Z","M-1,0L0,-0.6L1,0L0,0.6Z","M-1,0L0,-0.6L1,0L0,0.6Z"]}},
          "fill": {"field": "g", "type": "nominal", "legend": null, "scale": {"domain": ["1a","1b","2a","2b","3a","3b","4a","4b"], "range": ["black","white","black","white","black","white","black","white"]}}
         }},
        {"data": {"name": "B2m"}, "mark": {"type": "tick", "color": "black", "opacity": 1, "thickness": 1.5, "size": 34}}
       ]}
     ]}
    ]
   }
  ]
 }
],
"spacing": 76
}
